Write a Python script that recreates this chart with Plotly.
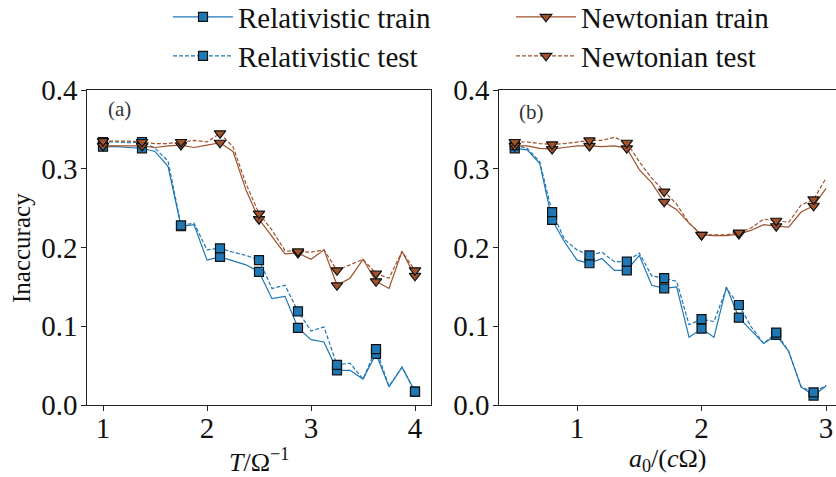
import plotly.graph_objects as go

# ---------------- data ----------------
T_vals = [1.0, 1.125, 1.25, 1.375, 1.5, 1.625, 1.75, 1.875, 2.0, 2.125, 2.25, 2.375, 2.5,
          2.625, 2.75, 2.875, 3.0, 3.125, 3.25, 3.375, 3.5, 3.625, 3.75, 3.875, 4.0]
rel_train_T = [0.328, 0.328, 0.327, 0.326, 0.322, 0.303, 0.227, 0.229, 0.184, 0.188, 0.183, 0.178, 0.169,
               0.135, 0.138, 0.098, 0.083, 0.080, 0.044, 0.044, 0.033, 0.065, 0.023, 0.048, 0.017]
rel_test_T = [0.334, 0.334, 0.333, 0.334, 0.326, 0.310, 0.228, 0.231, 0.197, 0.199, 0.194, 0.190, 0.184,
              0.148, 0.152, 0.119, 0.094, 0.099, 0.051, 0.053, 0.033, 0.071, 0.024, 0.048, 0.017]
newt_train_T = [0.329, 0.329, 0.329, 0.329, 0.327, 0.329, 0.330, 0.327, 0.330, 0.333, 0.322, 0.273, 0.236,
                0.214, 0.192, 0.193, 0.185, 0.197, 0.152, 0.161, 0.185, 0.157, 0.148, 0.195, 0.164]
newt_test_T = [0.335, 0.335, 0.335, 0.334, 0.332, 0.332, 0.334, 0.336, 0.334, 0.345, 0.328, 0.281, 0.243,
               0.222, 0.196, 0.195, 0.194, 0.197, 0.171, 0.178, 0.185, 0.167, 0.161, 0.195, 0.171]

a0_vals = [0.5, 0.6, 0.7, 0.8, 0.9, 1.0, 1.1, 1.2, 1.3, 1.4, 1.5, 1.6, 1.7,
           1.8, 1.9, 2.0, 2.1, 2.2, 2.3, 2.4, 2.5, 2.6, 2.7, 2.8, 2.9, 3.0]
rel_train_a = [0.326, 0.324, 0.307, 0.235, 0.207, 0.184, 0.180, 0.186, 0.171, 0.171, 0.190, 0.152, 0.148,
               0.150, 0.086, 0.097, 0.086, 0.150, 0.111, 0.095, 0.078, 0.089, 0.068, 0.023, 0.012, 0.024]
rel_test_a = [0.330, 0.326, 0.309, 0.245, 0.210, 0.197, 0.190, 0.194, 0.182, 0.182, 0.193, 0.164, 0.161,
              0.157, 0.102, 0.109, 0.106, 0.148, 0.127, 0.099, 0.078, 0.092, 0.068, 0.023, 0.016, 0.025]
newt_train_a = [0.329, 0.329, 0.326, 0.325, 0.327, 0.329, 0.329, 0.328, 0.329, 0.326, 0.299, 0.282, 0.258,
                0.248, 0.231, 0.216, 0.215, 0.215, 0.217, 0.222, 0.229, 0.227, 0.226, 0.245, 0.253, 0.275]
newt_test_a = [0.334, 0.334, 0.332, 0.331, 0.332, 0.334, 0.336, 0.336, 0.340, 0.333, 0.309, 0.288, 0.271,
               0.255, 0.231, 0.216, 0.216, 0.216, 0.219, 0.225, 0.236, 0.234, 0.232, 0.254, 0.261, 0.288]

y_ticks = [0.0, 0.1, 0.2, 0.3, 0.4]
x_ticks_T = [1, 2, 3, 4]
x_ticks_a = [1, 2, 3]

# ---------------- style ----------------
BLUE = "#1f77b4"
BROWN = "#a0522d"
CLEAR = "rgba(0,0,0,0)"
FONT = "Liberation Serif"
INK = "#111111"
W, H = 836, 477


def fx(p):
    return p / W


def fy(p):
    return 1 - p / H


fig = go.Figure()


def add_series(x, y, color, symbol, size, dash, name, xa, ya, legend, show):
    n = len(x)
    fill = [color if i % 3 == 0 else CLEAR for i in range(n)]
    edge = [INK if i % 3 == 0 else CLEAR for i in range(n)]
    fig.add_trace(go.Scatter(
        x=x, y=y, mode="lines+markers", name=name,
        line=dict(color=color, width=1.2, dash=dash),
        marker=dict(symbol=symbol, size=size, color=fill,
                    line=dict(color=edge, width=1.2)),
        xaxis=xa, yaxis=ya, legend=legend, showlegend=show,
    ))


DASH = "4px,2px"
for xs, rt, rs, nt, ns, xa, ya, show in [
    (T_vals, rel_train_T, rel_test_T, newt_train_T, newt_test_T, "x", "y", True),
    (a0_vals, rel_train_a, rel_test_a, newt_train_a, newt_test_a, "x2", "y2", False),
]:
    add_series(xs, rt, BLUE, "square", 9, "solid", "Relativistic train", xa, ya, "legend", show)
    add_series(xs, rs, BLUE, "square", 9, DASH, "Relativistic test", xa, ya, "legend3", show)
    add_series(xs, nt, BROWN, "triangle-down", 10, "solid", "Newtonian train", xa, ya, "legend2", show)
    add_series(xs, ns, BROWN, "triangle-down", 10, DASH, "Newtonian test", xa, ya, "legend4", show)

axis_common = dict(
    showgrid=False, zeroline=False, showline=True, linecolor="#222222", linewidth=1,
    ticks="outside", ticklen=5, tickwidth=1, tickcolor="#222222", automargin=False,
    tickfont=dict(family=FONT, size=29, color=INK),
)


def leg(xp, yp):
    return dict(orientation="h", x=fx(xp), xanchor="left", y=fy(yp), yanchor="middle",
                bgcolor=CLEAR, borderwidth=0, itemwidth=60,
                font=dict(family=FONT, size=29, color=INK))


def note(text, xp, yp, size, color=INK, angle=0):
    return dict(text=text, x=fx(xp), y=fy(yp), xref="paper", yref="paper",
                xanchor="center", yanchor="middle", showarrow=False, textangle=angle,
                font=dict(family=FONT, size=size, color=color))


ydom = [fy(405), fy(90)]
fig.update_layout(
    template="none",
    width=W, height=H,
    margin=dict(l=0, r=0, t=0, b=0, autoexpand=False),
    paper_bgcolor="white", plot_bgcolor="white",
    font=dict(family=FONT, size=24, color=INK),
    xaxis=dict(axis_common, domain=[fx(87.4), fx(430.6)], range=[0.85, 4.15],
               tickvals=x_ticks_T, anchor="y", mirror=True, ticklabelstandoff=-8),
    yaxis=dict(axis_common, domain=ydom, range=[0, 0.4], tickvals=y_ticks,
               tickformat=".1f", anchor="x", mirror=True, ticklabelstandoff=-2),
    xaxis2=dict(axis_common, domain=[fx(499.2), 1.0], range=[0.375, 3.08],
                tickvals=x_ticks_a, anchor="y2", mirror=True, ticklabelstandoff=-8),
    yaxis2=dict(axis_common, domain=ydom, range=[0, 0.4], tickvals=y_ticks,
                tickformat=".1f", anchor="x2", mirror=False, ticklabelstandoff=-2),
    legend=leg(168, 17),
    legend2=leg(511, 17),
    legend3=leg(168, 56),
    legend4=leg(511, 56),
    showlegend=True,
    annotations=[
        note("(a)", 119, 109, 21, "#333333"),
        note("(b)", 531, 112, 21, "#333333"),
        note("Inaccuracy", 22, 248, 25, angle=-90),
        note("<i>T</i>/Ω<sup>−1</sup>", 259, 460, 26),
        note("<i>a</i><sub>0</sub>/(<i>c</i>Ω)", 668, 460, 26),
    ],
)

fig.write_html("out.html",
               config={"displayModeBar": False},
               post_script="document.body.style.margin='0px';document.body.style.padding='0px';")
